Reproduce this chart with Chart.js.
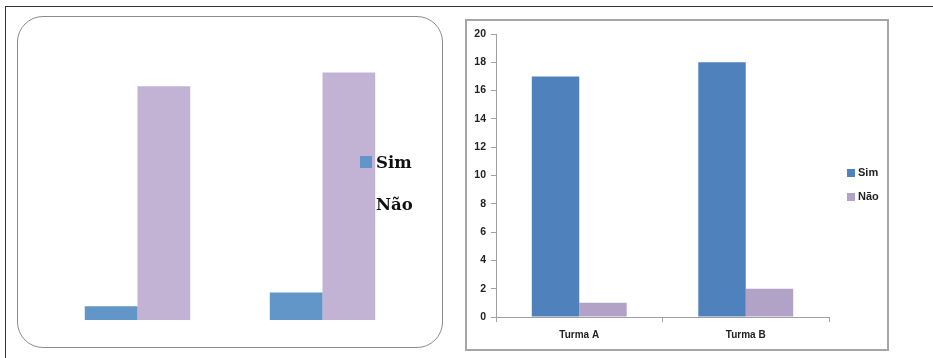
<!DOCTYPE html>
<html>
<head>
<meta charset="utf-8">
<script src="https://cdn.jsdelivr.net/npm/chart.js@4/dist/chart.umd.min.js"></script>
<style>
  html, body { margin: 0; padding: 0; background: #fff; }
  #page { position: relative; width: 933px; height: 358px; overflow: hidden; }
  #frame { position: absolute; left: 5px; top: 6px; width: 940px; height: 360px;
           border-top: 1px solid #333; border-left: 1px solid #333; }
  #boxA { position: absolute; left: 17px; top: 16px; width: 424px; height: 330px;
          border: 1.5px solid #8c8c8c; border-radius: 26px; }
  #boxB { position: absolute; left: 465px; top: 19px; width: 420px; height: 328px;
          border: 2px solid #a6a6a6; }
  #wrapA { position: absolute; left: 17px; top: 16px; width: 426px; height: 332px; }
  #wrapB { position: absolute; left: 465px; top: 19px; width: 423px; height: 331px; }
  .leg { position: absolute; }
  .leg div { position: absolute; white-space: nowrap; }
  .leg span.sw { position: absolute; }
  #legA div { font: bold 16.5px "DejaVu Serif", "Liberation Serif", serif; color: #111; }
  #legB div { font: bold 11px "Liberation Sans", Arial, sans-serif; color: #222; }
</style>
</head>
<body>
<div id="page">
  <div id="frame"></div>
  <div id="boxA"></div>
  <div id="boxB"></div>
  <div id="wrapA"><canvas id="chartA" width="426" height="332"></canvas></div>
  <div id="wrapB"><canvas id="chartB" width="423" height="331"></canvas></div>
  <div id="legA" class="leg"></div>
  <div id="legB" class="leg"></div>
</div>
<script>
// categories and series
var turmas = ['Turma A', 'Turma B'];
var seriesNames = ['Sim', 'Não'];

// first chart (no axes)
var simA = [1, 2];
var naoA = [17, 18];
var coresA = ['#6396c8', '#c2b3d4'];

// second chart
var simB = [17, 18];
var naoB = [1, 2];
var coresB = ['#4f81bd', '#b3a2c7'];

// value axis 0..20, step 2
var yMin = 0, yMax = 20, yStep = 2;

var ctxA = document.getElementById('chartA');
new Chart(ctxA, {
  type: 'bar',
  data: {
    labels: turmas,
    datasets: [
      { label: seriesNames[0], data: simA, backgroundColor: coresA[0], borderWidth: 0 },
      { label: seriesNames[1], data: naoA, backgroundColor: coresA[1], borderWidth: 0 }
    ]
  },
  options: {
    responsive: false,
    animation: false,
    layout: { padding: { left: 28, right: 28, top: 29, bottom: 28 } },
    datasets: { bar: { barPercentage: 1, categoryPercentage: 0.57 } },
    scales: {
      x: { display: false },
      y: { display: false, min: yMin, max: yMax }
    },
    plugins: { legend: { display: false }, tooltip: { enabled: false } }
  }
});

var ctxB = document.getElementById('chartB');
new Chart(ctxB, {
  type: 'bar',
  data: {
    labels: turmas,
    datasets: [
      { label: seriesNames[0], data: simB, backgroundColor: coresB[0], borderWidth: 0 },
      { label: seriesNames[1], data: naoB, backgroundColor: coresB[1], borderWidth: 0 }
    ]
  },
  options: {
    responsive: false,
    animation: false,
    layout: { padding: { left: 0, right: 59, top: 15, bottom: 0 } },
    datasets: { bar: { barPercentage: 1, categoryPercentage: 0.57 } },
    scales: {
      x: {
        afterFit: function (s) { s.height = 33; },
        grid: { offset: true, drawOnChartArea: false, drawTicks: true, tickLength: 5, color: '#a0a0a0' },
        border: { display: true, color: '#a0a0a0', width: 1 },
        ticks: { color: '#222', padding: 7, font: { family: 'Liberation Sans', size: 10, weight: 'bold' } }
      },
      y: {
        min: yMin,
        max: yMax,
        afterFit: function (s) { s.width = 31; },
        grid: { drawOnChartArea: false, drawTicks: true, tickLength: 5, color: '#a0a0a0' },
        border: { display: true, color: '#a0a0a0', width: 1 },
        ticks: { stepSize: yStep, color: '#222', padding: 5, font: { family: 'Liberation Sans', size: 10.5, weight: 'bold' } }
      }
    },
    plugins: { legend: { display: false }, tooltip: { enabled: false } }
  }
});

// legends
function buildLegend(id, cores, sq, x0, ys, textDx, textDy) {
  var el = document.getElementById(id);
  seriesNames.forEach(function (name, i) {
    var sw = document.createElement('span');
    sw.className = 'sw';
    sw.style.left = x0 + 'px';
    sw.style.top = (ys[i] - sq / 2) + 'px';
    sw.style.width = sq + 'px';
    sw.style.height = sq + 'px';
    sw.style.background = cores[i];
    el.appendChild(sw);
    var t = document.createElement('div');
    t.textContent = name;
    t.style.left = (x0 + textDx) + 'px';
    t.style.top = (ys[i] + textDy) + 'px';
    el.appendChild(t);
  });
}
buildLegend('legA', coresA, 12, 360, [162, 204], 16, -9);
buildLegend('legB', coresB, 8, 847, [173, 197], 11, -7);
</script>
</body>
</html>
